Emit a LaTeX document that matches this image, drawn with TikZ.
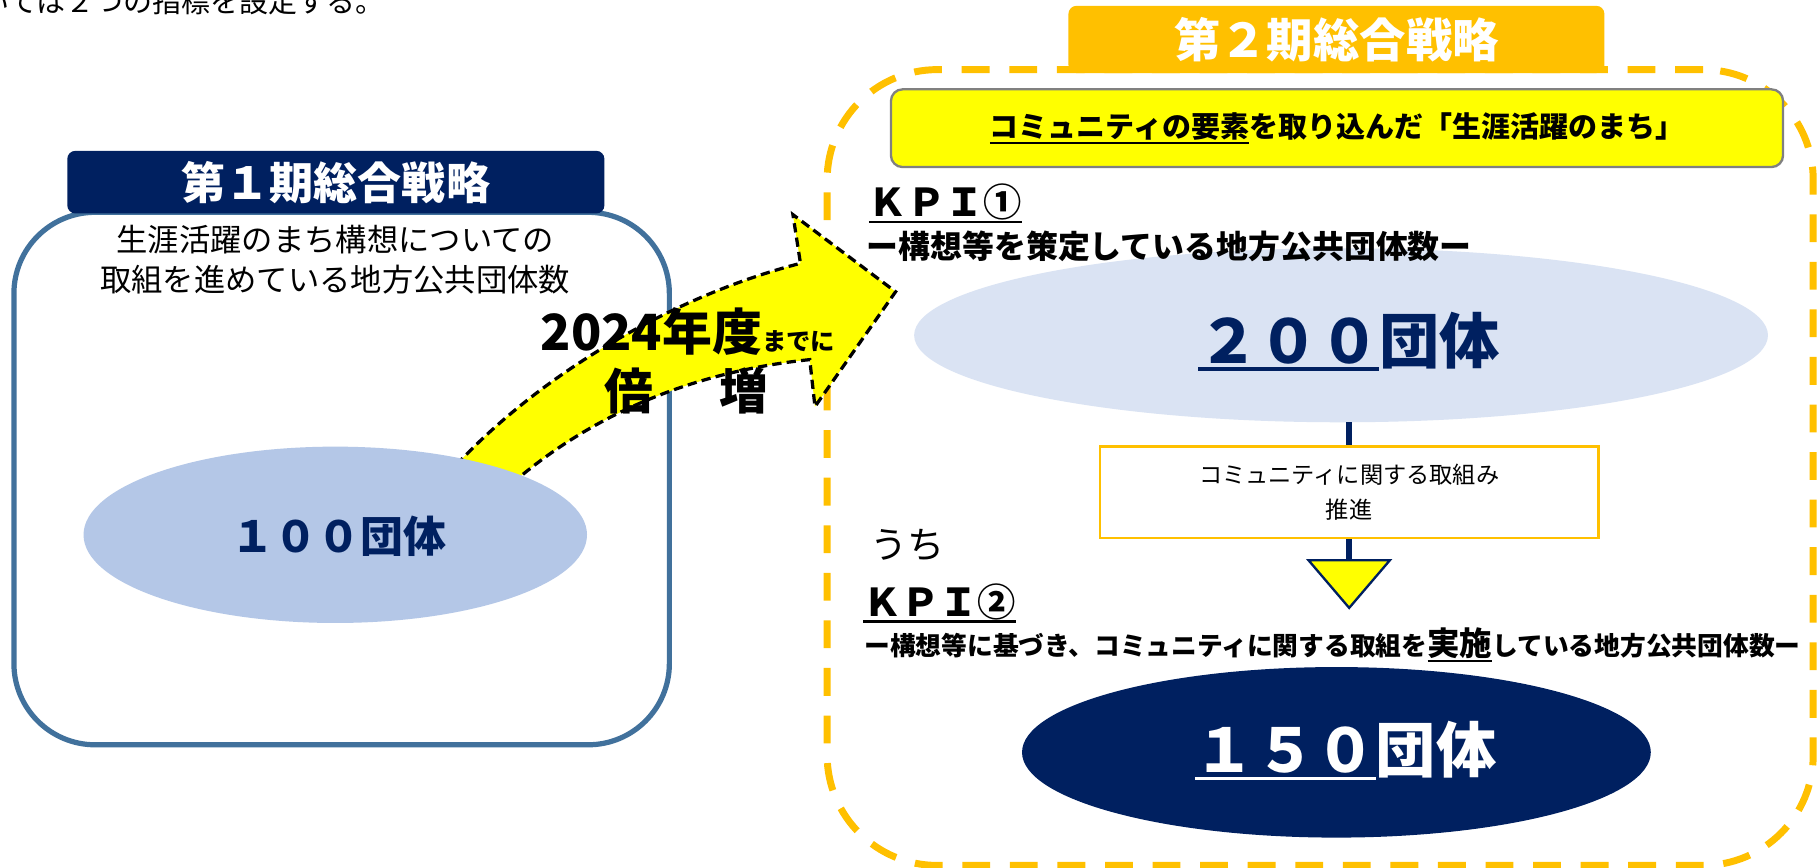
\documentclass[tikz,border=0pt]{standalone}
\usepackage{fontspec}
\setmainfont{Noto Sans CJK JP}
\usetikzlibrary{shapes.geometric}
\definecolor{navy}{HTML}{002060}
\definecolor{boxblue}{HTML}{41719C}
\definecolor{orng}{HTML}{FFC000}
\definecolor{ylw}{HTML}{FFFF00}
\definecolor{lblue}{HTML}{B4C7E7}
\definecolor{pblue}{HTML}{DAE3F3}
\definecolor{grayb}{HTML}{808080}
\newcommand{\fs}[1]{\fontsize{#1}{#1}\selectfont}
\newcommand{\fsz}[2]{\fontsize{#1}{#2}\selectfont}
\newcommand{\myul}[3]{\vtop{\hbox{#3}\kern#2\hrule height#1}}
\tikzset{
  hdr/.style={rounded corners=7pt, text=white},
  bigell/.style={ellipse},
  kpi/.style={anchor=base west, font=\bfseries\fs{33}},
}
\begin{document}
\begin{tikzpicture}[x=1pt,y=-1pt, every node/.style={inner sep=0pt, outer sep=0pt}]
\fill[white] (0,0) rectangle (1568,748);
\useasboundingbox (0,0) rectangle (1568,748);

\node[anchor=base west, font=\fs{25}] (intro) at (-17,11) {いては２つの指標を設定する。};

% left box
\node[draw=boxblue, line width=4.5pt, rounded corners=70pt, minimum width=565pt, minimum height=459pt] (box1) at (294.5,412.5) {};
% right dashed box
\node[draw=orng, line width=6pt, dash pattern=on 24pt off 17pt, rounded corners=95pt, minimum width=850pt, minimum height=686pt] (box2) at (1138,403) {};

% headers
\node[hdr, fill=navy, minimum width=463pt, minimum height=54pt, font=\bfseries\fs{38}] (h1) at (289.5,157) {第１期総合戦略};
\node[hdr, fill=orng, minimum width=462pt, minimum height=58pt, font=\bfseries\fs{40}] (h2) at (1152,34) {第２期総合戦略};

\node[align=center, font=\fsz{27}{35}] (desc1) at (289,224) {生涯活躍のまち構想についての\\取組を進めている地方公共団体数};

% curved arrow
\path[fill=ylw, draw=black, line width=2.8pt, dash pattern=on 8pt off 4.5pt, line join=miter]
 (385,410) .. controls (460,325) and (580,255) .. (690,227) -- (683.5,185) -- (772,251.5) -- (702.5,350.5) -- (698,310) .. controls (620,318) and (520,345) .. (432,425) -- cycle;

\node[bigell, fill=lblue, minimum width=434pt, minimum height=152pt] (e1) at (289,461) {};
\node[font=\bfseries\fs{37}, text=navy] (v100) at (292,462) {１００団体};

\node[anchor=base, font=\bfseries] (yr) at (593,302) {\fs{43}2024年度\fs{21}までに};
\node[anchor=base, font=\bfseries\fs{42}] (bz) at (592,353) {倍\hspace{57pt}増};

% right side
\node[fill=ylw, draw=grayb, line width=2pt, rounded corners=10pt, minimum width=769pt, minimum height=67pt, font=\bfseries\fs{25}] (yb) at (1152.5,110.5) {\myul{1.8pt}{1pt}{コミュニティの要素}を取り込んだ「生涯活躍のまち」};

\node[bigell, fill=pblue, minimum width=736pt, minimum height=150pt] (e2) at (1156,289) {};
\node[anchor=base, font=\bfseries\fs{52}, text=navy] (v200) at (1163,313) {\myul{2.8pt}{3pt}{２００}団体};

\node[kpi] (k1) at (749,187) {\myul{2pt}{0.5pt}{ＫＰＩ①}};
\node[anchor=base west, font=\bfseries\fs{27.5}] (k1d) at (747,223) {ー構想等を策定している地方公共団体数ー};

\coordinate (tritop) at (1163,483);
\draw[navy, line width=5.5pt] (e2.south -| tritop) -- (tritop);
\node[draw=orng, line width=2pt, fill=white, minimum width=430pt, minimum height=79pt, align=center, font=\fsz{20}{30}] (pb) at (1163,424.5) {コミュニティに関する取組み\\推進};
\filldraw[fill=ylw, draw=navy, line width=2pt, line join=miter] ([xshift=-35pt]tritop) -- ++(70,0) -- ++(-35,41) -- cycle;

\node[anchor=base west, font=\fs{32}] (uchi) at (750,481) {うち};
\node[kpi] (k2) at (744,531) {\myul{2pt}{0.5pt}{ＫＰＩ②}};
\node[anchor=base west, font=\bfseries\fs{22.2}] (k2d) at (745,565) {ー構想等に基づき、コミュニティに関する取組を\myul{1.8pt}{1pt}{\fs{28}実施}している地方公共団体数ー};

\node[bigell, fill=navy, minimum width=542pt, minimum height=147pt] (e3) at (1152,648.5) {};
\node[anchor=base, font=\bfseries\fs{52}, text=white] (v150) at (1160,666) {\myul{2.8pt}{3pt}{１５０}団体};
\end{tikzpicture}
\end{document}
